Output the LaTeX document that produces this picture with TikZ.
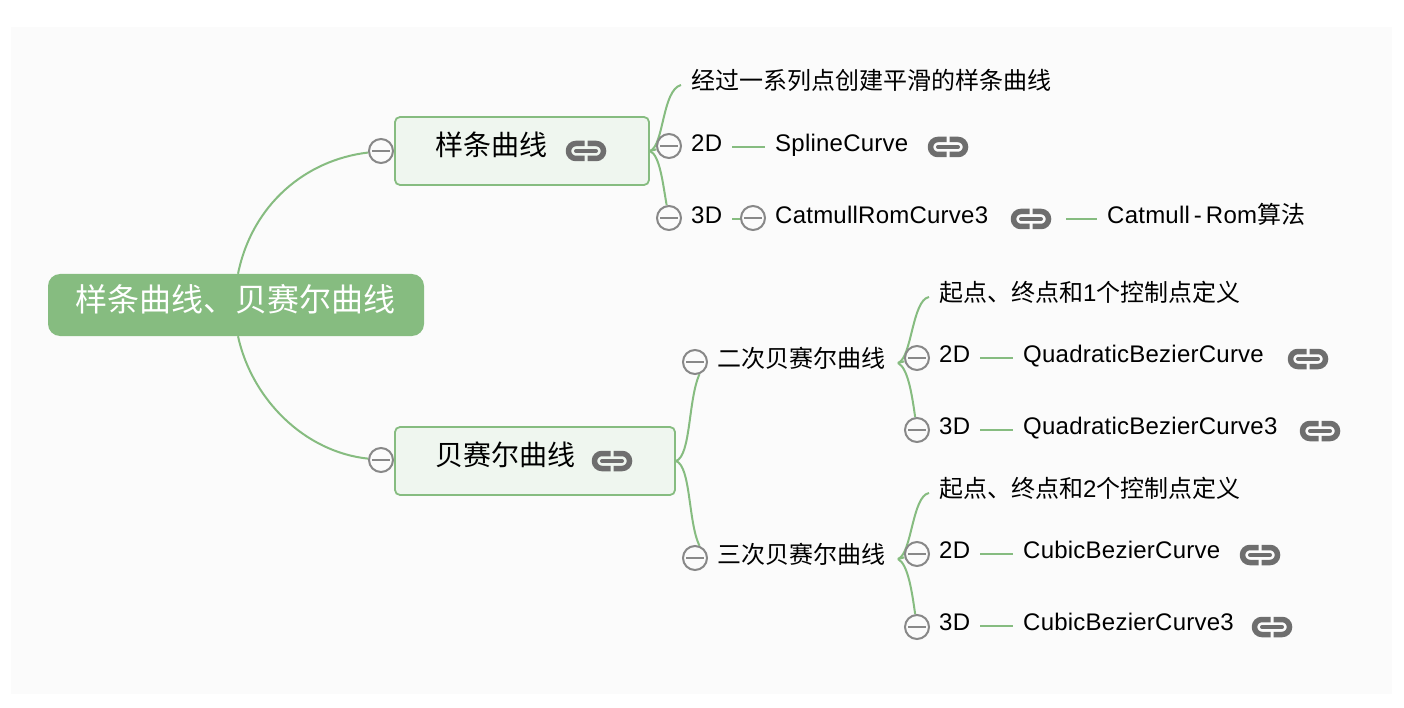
\documentclass[tikz,border=0pt]{standalone}
\usepackage{fontspec}
\setmainfont[LetterSpace=1]{Liberation Sans}
\newfontfamily\cjk{Noto Sans CJK SC}
\usetikzlibrary{backgrounds}
\definecolor{mmgreen}{HTML}{86BC80}
\definecolor{mmfill}{HTML}{EFF6EF}
\definecolor{mmbg}{HTML}{FBFBFB}
\definecolor{mmgray}{HTML}{888888}
\definecolor{mmicon}{HTML}{6E6E6E}
\tikzset{
  x=1pt,y=-1pt,
  rootbox/.style={draw=none,fill=mmgreen,rounded corners=12pt,minimum width=376pt,minimum height=62pt,inner sep=0pt},
  mainbox/.style={draw=mmgreen,line width=1.8pt,fill=mmfill,rounded corners=5pt,inner sep=0pt},
  label/.style={anchor=west,inner xsep=10pt,inner ysep=0pt,text height=15pt,text depth=6pt,font=\fontsize{24}{28}\selectfont,text=black},
  biglabel/.style={anchor=west,inner sep=0pt,font=\fontsize{28}{32}\selectfont\cjk,text=black},
  rootlabel/.style={inner sep=0pt,font=\fontsize{32}{36}\selectfont\cjk,text=white},
  collapse/.style={circle,draw=mmgray,line width=2pt,fill=mmbg,minimum size=24pt,inner sep=0pt,
    path picture={\draw[mmgray,line width=2pt] ([xshift=-9pt]path picture bounding box.center) -- ([xshift=9pt]path picture bounding box.center);}},
  branch/.style={draw=mmgreen,line width=2pt},
  linkicon/.pic={
    \draw[mmicon,line width=5.5pt,rounded corners=7.4pt] (-1.5,-7.5) -- (-17.5,-7.5) -- (-17.5,7.5) -- (-1.5,7.5);
    \draw[mmicon,line width=5.5pt,rounded corners=7.4pt] (1.5,-7.5) -- (17.5,-7.5) -- (17.5,7.5) -- (1.5,7.5);
    \draw[mmicon,line width=4pt,line cap=round] (-10,0) -- (10,0);
  }
}
\begin{document}
\begin{tikzpicture}
\useasboundingbox (0,0) rectangle (1404,708);

% root and main boxes
\node[rootbox] (root) at (236,305) {};
\node[rootlabel] (rootT) at (235.5,299) {样条曲线、贝赛尔曲线};
\node[collapse] (c1) at (381,151) {};
\node[collapse] (c2) at (381,460) {};
\node[mainbox,minimum width=254pt,minimum height=68pt] (b1) at (522,151) {};
\node[mainbox,minimum width=280pt,minimum height=68pt] (b2) at (535,461) {};
\node[biglabel] (b1T) at (435,145) {样条曲线};
\node[biglabel] (b2T) at (435,455) {贝赛尔曲线};
\pic at (586,151) {linkicon};
\pic at (612,461) {linkicon};

% spline branch
\node[label] (s0) at (681,85) {\cjk 经过一系列点创建平滑的样条曲线};
\node[collapse] (cs2) at (669,146) {};
\node[label] (s2) at (681,147) {2D};
\node[label] (s2a) at (765,147) {SplineCurve};
\pic at (948,147) {linkicon};
\node[collapse] (cs3) at (669,218) {};
\node[label] (s3) at (681,219) {3D};
\node[collapse] (cs3a) at (753,218) {};
\node[label] (s3a) at (765,219) {CatmullRomCurve3};
\pic at (1031,219) {linkicon};
\coordinate (s3e) at (1066,219);
\node[label] (s3b) at (1097,219) {Catmull\kern4pt-\kern4ptRom{\cjk 算法}};

% bezier branch, quadratic
\node[collapse] (cq) at (695,362) {};
\node[label] (q) at (707,363) {\cjk 二次贝赛尔曲线};
\node[label] (q0) at (929,297) {\cjk 起点、终点和{\fontspec{Liberation Sans}1}个控制点定义};
\node[collapse] (cq2) at (917,358) {};
\node[label] (q2) at (929,358) {2D};
\node[label] (q2a) at (1013,358) {QuadraticBezierCurve};
\pic at (1308,359) {linkicon};
\node[collapse] (cq3) at (917,430) {};
\node[label] (q3) at (929,430) {3D};
\node[label] (q3a) at (1013,430) {QuadraticBezierCurve3};
\pic at (1320,431) {linkicon};

% bezier branch, cubic
\node[collapse] (cc) at (695,558) {};
\node[label] (k) at (707,559) {\cjk 三次贝赛尔曲线};
\node[label] (k0) at (929,493) {\cjk 起点、终点和{\fontspec{Liberation Sans}2}个控制点定义};
\node[collapse] (cc2) at (917,554) {};
\node[label] (k2) at (929,554) {2D};
\node[label] (k2a) at (1013,554) {CubicBezierCurve};
\pic at (1260,555) {linkicon};
\node[collapse] (cc3) at (917,627) {};
\node[label] (k3) at (929,626) {3D};
\node[label] (k3a) at (1013,626) {CubicBezierCurve3};
\pic at (1272,627) {linkicon};

\coordinate (qj) at (898,363);
\coordinate (kj) at (898,559);

\begin{pgfonlayer}{background}
\fill[white] (0,0) rectangle (1404,708);
\fill[mmbg] (11,27) rectangle (1392,694);
% root to main boxes
\draw[branch] ([xshift=2pt]root.north) .. controls (252,205) and (305,160) .. (c1);
\draw[branch] ([xshift=2pt]root.south) .. controls (252,400) and (305,452) .. (c2);
% spline branch
\draw[branch] (b1.east) .. controls (664,146) and (662,90) .. (s0.west);
\draw[branch] (b1.east) -- (cs2);
\draw[branch] (b1.east) .. controls (660,155) and (663,185) .. (cs3);
\draw[branch] (s2.east) -- (s2a.west);
\draw[branch] (s3.east) -- (s3a.west);
\draw[branch] (s3e) -- (s3b.west);
% bezier branch
\draw[branch] (b2.east) .. controls (691,456) and (688,400) .. (cq.-70);
\draw[branch] (b2.east) .. controls (691,466) and (688,522) .. (cc.70);
\draw[branch] (qj) .. controls (912,358) and (912,300) .. (q0.west);
\draw[branch] (qj) -- (cq2);
\draw[branch] (qj) .. controls (908,368) and (912,395) .. (cq3);
\draw[branch] (q2.east) -- (q2a.west);
\draw[branch] (q3.east) -- (q3a.west);
\draw[branch] (kj) .. controls (912,554) and (912,496) .. (k0.west);
\draw[branch] (kj) -- (cc2);
\draw[branch] (kj) .. controls (908,564) and (912,592) .. (cc3);
\draw[branch] (k2.east) -- (k2a.west);
\draw[branch] (k3.east) -- (k3a.west);
\end{pgfonlayer}
\end{tikzpicture}
\end{document}
